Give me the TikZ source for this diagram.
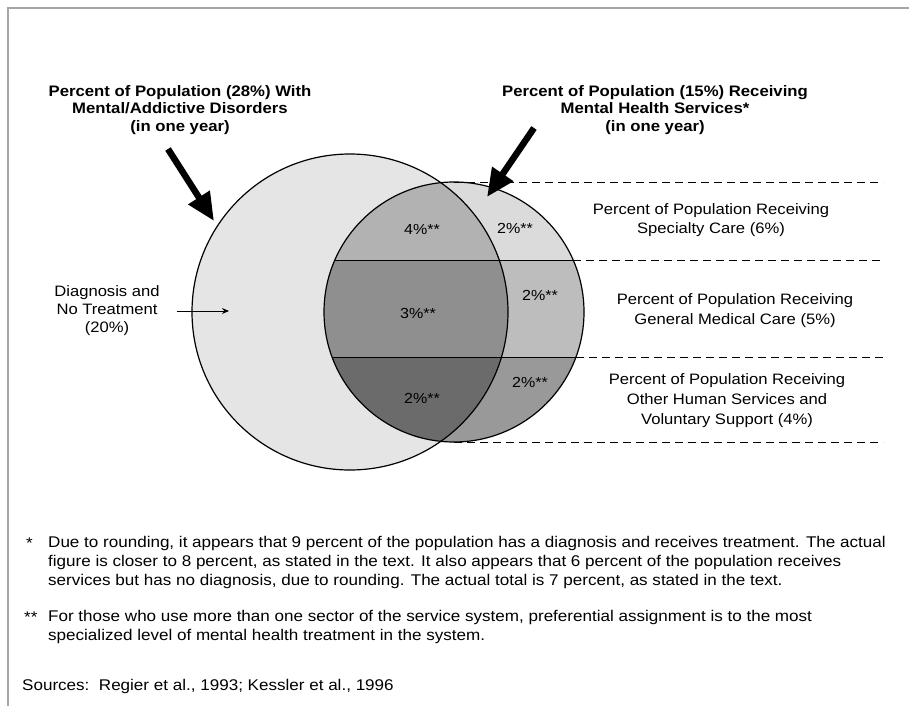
\documentclass[tikz,border=0pt]{standalone}
\usepackage{fontspec}
\setmainfont[FakeStretch=1.1]{Liberation Sans}
\usetikzlibrary{arrows.meta,positioning}

\definecolor{bigfill}{gray}{0.90}
\definecolor{outtop}{gray}{0.86}
\definecolor{outmid}{gray}{0.74}
\definecolor{outbot}{gray}{0.60}
\definecolor{intop}{gray}{0.70}
\definecolor{inmid}{gray}{0.56}
\definecolor{inbot}{gray}{0.42}

\begin{document}
\begin{tikzpicture}[
    x=1pt, y=-1pt,
    ttl/.style={font=\bfseries\fontsize{15.2}{17.5}\selectfont, align=center},
    lbl/.style={font=\fontsize{15.1}{19}\selectfont, align=center},
    pct/.style={font=\fontsize{14.6}{17}\selectfont},
    note/.style={font=\fontsize{15.5}{19}\selectfont, align=left,
                 anchor=west, inner sep=0pt},
    bigarr/.style={-{Triangle[length=28pt,width=24pt]}, line width=6.5pt},
    thinarr/.style={-{Stealth[length=7pt,width=6pt]}, line width=1pt},
    divider/.style={dash pattern=on 8pt off 5pt, line width=0.8pt}
]
\useasboundingbox (0,0) rectangle (909,706);

% frame
\draw[gray!70, line width=2.5pt] (8,706) -- (8,8) -- (909,8);

% ── Venn circles ──
\coordinate (bigc) at (350,312);
\coordinate (smc) at (454,312);
\fill[bigfill] (bigc) circle[radius=158pt];
\begin{scope}
  \clip (smc) circle[radius=130pt];
  \fill[outtop] (300,170) rectangle (600,260);
  \fill[outmid] (300,260) rectangle (600,357);
  \fill[outbot] (300,357) rectangle (600,460);
  \clip (bigc) circle[radius=158pt];
  \fill[intop] (300,170) rectangle (600,260);
  \fill[inmid] (300,260) rectangle (600,357);
  \fill[inbot] (300,357) rectangle (600,460);
\end{scope}
\begin{scope}
  \clip (smc) circle[radius=130pt];
  \draw[line width=1pt] (300,260) -- (600,260);
  \draw[line width=1pt] (300,357) -- (600,357);
\end{scope}
\draw[line width=1.2pt] (bigc) circle[radius=158pt];
\draw[line width=1.2pt] (smc) circle[radius=130pt];

% dividers to the right
\draw[divider] (454,182) -- (883,182);
\draw[divider] (573,260) -- (883,260);
\draw[divider] (576,357) -- (883,357);
\draw[divider] (454,442) -- (883,442);

% ── percentages ──
\node[pct] (spin) at (422,229) {4\%**};
\node[pct] (spout) at (515,228) {2\%**};
\node[pct] (gmin) at (418,313) {3\%**};
\node[pct] (gmout) at (540,295) {2\%**};
\node[pct] (huin) at (422,398) {2\%**};
\node[pct] (huout) at (530,382) {2\%**};

% ── titles and big arrows ──
\node[ttl] (disord) at (180,110) {Percent of Population (28\%) With\\Mental/Addictive Disorders\\(in one year)};
\node[ttl] (serv) at (655,110) {Percent of Population (15\%) Receiving\\Mental Health Services*\\(in one year)};
\coordinate (disordtail) at (168,149);
\coordinate (disordtip) at (214,221);
\coordinate (servtail) at (534,128);
\coordinate (servtip) at (487,197);
\draw[bigarr] (disordtail) -- (disordtip);
\draw[bigarr] (servtail) -- (servtip);

% ── no treatment ──
\node[lbl, font=\fontsize{15.1}{18}\selectfont] (notreat) at (107,311) {Diagnosis and\\No Treatment\\(20\%)};
\coordinate (notreattip) at (229,311);
\draw[thinarr] ([xshift=14pt]notreat.east) -- (notreattip);

% ── sector labels ──
\node[lbl] (specialty) at (711,220) {Percent of Population Receiving\\Specialty Care (6\%)};
\node[lbl, font=\fontsize{15.1}{20}\selectfont] (general) at (735,311) {Percent of Population Receiving\\General Medical Care (5\%)};
\node[lbl, font=\fontsize{15.1}{20}\selectfont] (human) at (727,401) {Percent of Population Receiving\\Other Human Services and\\Voluntary Support (4\%)};

% ── footnotes ──
\node[note] (star) at (26,543) {*};
\node[note] (startext) at (48,562) {Due to rounding, it appears that 9 percent of the population has a diagnosis and receives treatment. The actual\\figure is closer to 8 percent, as stated in the text. It also appears that 6 percent of the population receives\\services but has no diagnosis, due to rounding. The actual total is 7 percent, as stated in the text.};
\node[note] (dstar) at (24,617) {**};
\node[note] (dstartext) at (48,626.5) {For those who use more than one sector of the service system, preferential assignment is to the most\\specialized level of mental health treatment in the system.};
\node[note] (sources) at (22,686) {Sources:\ \ Regier et al., 1993; Kessler et al., 1996};

\end{tikzpicture}
\end{document}
